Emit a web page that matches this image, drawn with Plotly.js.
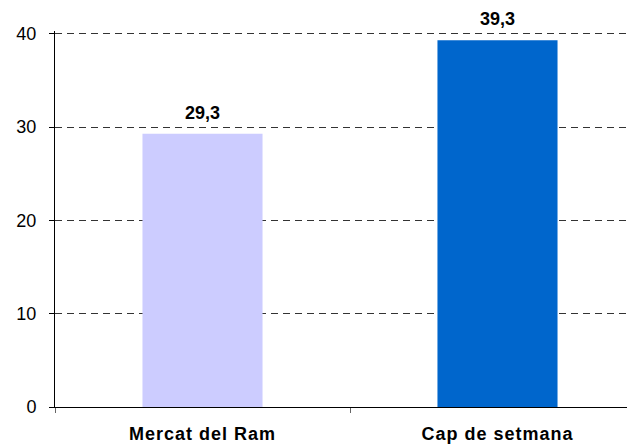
<!DOCTYPE html>
<html>
<head>
<meta charset="utf-8">
<script src="https://cdn.plot.ly/plotly-3.0.1.min.js"></script>
<style>
html,body{margin:0;padding:0;background:#fff;}
#chart{width:627px;height:448px;}
.xtick text{letter-spacing:1px;}
</style>
</head>
<body>
<div id="chart"></div>
<script>
const categories = ["Mercat del Ram", "Cap de setmana"];
const values = [29.3, 39.3];
const barColors = ["#CCCCFF", "#0066CC"];
const yTicks = [0, 10, 20, 30, 40];

const fmt = v => v.toFixed(1).replace('.', ',');

const trace = {
  type: 'bar',
  x: categories,
  y: values,
  marker: {color: barColors, line: {width: 0}},
  width: 0.407,
  hoverinfo: 'none'
};

const annotations = categories.map((c, i) => ({
  x: c, y: values[i], xref: 'x', yref: 'y',
  text: '<b>' + fmt(values[i]) + '</b>',
  showarrow: false, yanchor: 'bottom', yshift: 9,
  font: {family: 'Liberation Sans, Arial, sans-serif', size: 18, color: '#000'}
}));

const layout = {
  width: 627, height: 448,
  margin: {l: 55, r: 0, t: 31, b: 41},
  paper_bgcolor: '#fff', plot_bgcolor: '#fff',
  showlegend: false,
  xaxis: {
    type: 'category',
    range: [-0.5, 1.439],
    tickson: 'boundaries',
    ticks: 'outside', ticklen: 5, tickcolor: '#666', tickwidth: 1,
    showline: true, linecolor: '#000', linewidth: 1,
    showgrid: false,
    tickfont: {family: 'Liberation Sans, Arial, sans-serif', size: 18, color: '#000', weight: 'bold'},
    ticklabelstandoff: 10
  },
  yaxis: {
    range: [0, 40.3],
    tickvals: yTicks,
    ticktext: yTicks.map(String),
    ticks: 'outside', ticklen: 5, tickcolor: '#000', tickwidth: 1,
    showline: true, linecolor: '#000', linewidth: 1,
    showgrid: true, gridcolor: '#333', gridwidth: 1, griddash: '7px,5px',
    zeroline: false,
    tickfont: {family: 'Liberation Sans, Arial, sans-serif', size: 18, color: '#000'},
    ticklabelstandoff: 9
  },
  annotations: annotations
};

Plotly.newPlot('chart', [trace], layout, {staticPlot: true, displayModeBar: false});
</script>
</body>
</html>
